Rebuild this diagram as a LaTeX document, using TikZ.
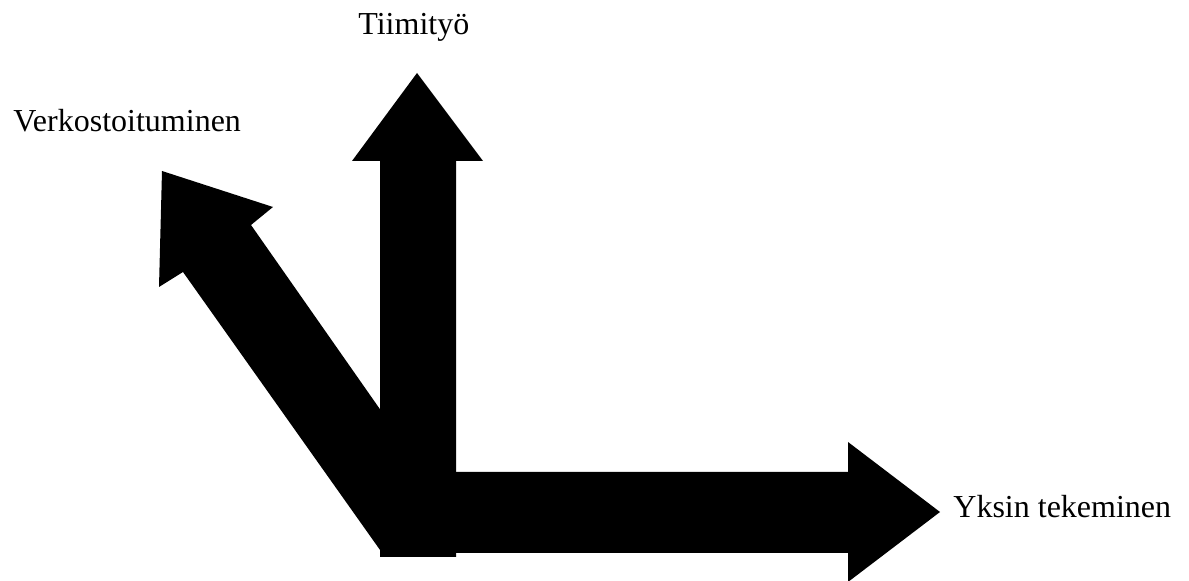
\documentclass[tikz,border=0pt]{standalone}
\usepackage{fontspec}
\setmainfont{Liberation Serif}
\begin{document}
\begin{tikzpicture}[x=0.5pt, y=-0.5pt, every node/.style={font=\fontsize{16}{19}\selectfont, inner sep=0pt, anchor=base west},
    blockarrow/.style={fill=black, draw=none}]
        \useasboundingbox (0,0) rectangle (1189,581);
        % arrows
        \fill[blockarrow] (162,171) -- (273,207) -- (251,225) -- (380.5,410) -- (382,557) -- (385,557) -- (183,272) -- (159,287) -- cycle;
        \fill[blockarrow] (380,557) -- (380,161) -- (352,161) -- (417,73) -- (483,161) -- (456,161) -- (456,557) -- cycle;
        \fill[blockarrow] (380,472) -- (848,472) -- (848,442) -- (940,512) -- (848,582) -- (848,553) -- (380,553) -- cycle;
        % labels
        \node (tiimi) at (358,35) {Tiimityö};
        \node (verkosto) at (13,132) {Verkostoituminen};
        \node (yksin) at (953,518) {Yksin tekeminen};
    \end{tikzpicture}
\end{document}
